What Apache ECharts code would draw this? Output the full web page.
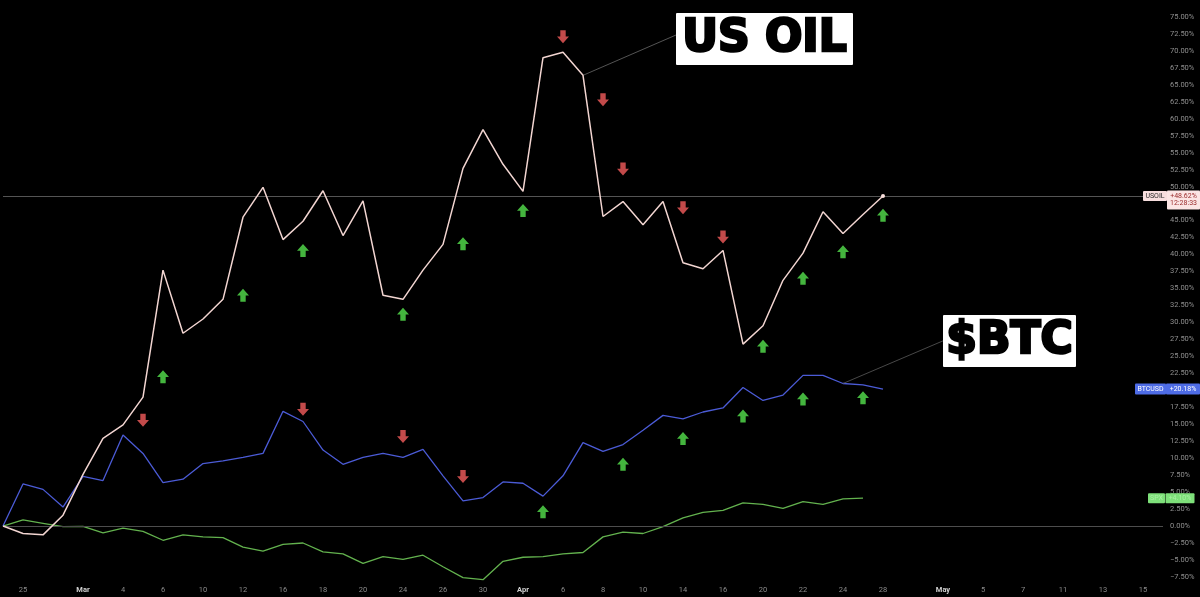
<!DOCTYPE html>
<html><head><meta charset="utf-8">
<script src="https://cdn.jsdelivr.net/npm/echarts@6/dist/echarts.min.js"></script>
<style>html,body{margin:0;padding:0;background:#000;}#c{width:1200px;height:597px;}</style>
</head><body><div id="c"></div>
<script>
// Trading days (2026), one category each
const dates = ['Feb 24','Feb 25','Feb 26','Feb 27','Mar 2','Mar 3','Mar 4','Mar 5','Mar 6','Mar 9','Mar 10','Mar 11','Mar 12','Mar 13','Mar 16','Mar 17','Mar 18','Mar 19','Mar 20','Mar 23','Mar 24','Mar 25','Mar 26','Mar 27','Mar 30','Mar 31','Apr 1','Apr 2','Apr 6','Apr 7','Apr 8','Apr 9','Apr 10','Apr 13','Apr 14','Apr 15','Apr 16','Apr 17','Apr 20','Apr 21','Apr 22','Apr 23','Apr 24','Apr 27','Apr 28','Apr 29','Apr 30','May 1','May 4','May 5','May 6','May 7','May 8','May 11','May 12','May 13','May 14','May 15','May 18'];
const tickLabels = ['','25','','','Mar','','4','','6','','10','','12','','16','','18','','20','','24','','26','','30','','Apr','','6','','8','','10','','14','','16','','20','','22','','24','','28','','','May','','5','','7','','11','','13','','15',''];
const monthLabels = ['Mar','Apr','May'];

// % change series
const usoil = [0,-1.1,-1.3,1.6,7.6,12.9,14.9,19.0,37.7,28.4,30.5,33.4,45.5,49.9,42.2,44.9,49.4,42.8,47.9,34.0,33.4,37.7,41.5,52.7,58.4,53.3,49.3,69.0,69.8,66.4,45.6,47.8,44.4,47.8,38.8,37.9,40.6,26.8,29.5,36.2,40.2,46.3,43.1,45.9,48.62];
const btcusd = [0,6.2,5.4,2.8,7.3,6.7,13.4,10.7,6.4,6.9,9.2,9.6,10.1,10.7,16.9,15.4,11.2,9.1,10.1,10.7,10.1,11.3,7.4,3.7,4.2,6.5,6.3,4.4,7.4,12.3,11.0,12.0,14.1,16.3,15.8,16.8,17.4,20.4,18.5,19.3,22.2,22.2,21.0,20.8,20.18];
const third = [0,0.9,0.4,-0.1,-0.05,-1.0,-0.3,-0.8,-2.1,-1.3,-1.6,-1.7,-3.1,-3.7,-2.7,-2.5,-3.8,-4.1,-5.5,-4.5,-4.9,-4.3,-6.0,-7.6,-7.9,-5.2,-4.6,-4.5,-4.1,-3.9,-1.6,-0.9,-1.1,-0.1,1.2,2.0,2.3,3.4,3.2,2.6,3.6,3.2,4.0,4.1];

// arrow annotations [dayIndex, %]
const downArrows = [[7,15.6],[15,17.2],[20,13.2],[23,7.3],[28,72.1],[30,62.8],[31,52.6],[34,46.9],[36,42.6]];
const upArrows = [[8,22.0],[12,34.0],[15,40.6],[20,31.2],[23,41.6],[26,46.5],[27,2.1],[31,9.1],[34,12.9],[37,16.2],[38,26.5],[40,36.5],[40,18.7],[42,40.4],[43,18.9],[44,45.8]];

const Y_MIN = -10, Y_MAX = 77.5, Y_STEP = 2.5;
const FONT = 'Roboto, "Liberation Sans", sans-serif';
const BIG = 'bold 44px "DejaVu Sans", sans-serif';

const fmtPct = v => (v < 0 ? '\u2212' : '') + Math.abs(v).toFixed(2) + '%';
const signPct = v => (v >= 0 ? '+' : '\u2212') + Math.abs(v).toFixed(2) + '%';

const oilData = usoil.map((v, i) => i === usoil.length - 1
  ? { value: v, symbol: 'circle', symbolSize: 4, itemStyle: { color: '#f9e0dc' } }
  : { value: v, symbol: 'none' });

const upPath = 'path://M6,0 L12,6.2 L8.7,6.2 L8.7,12 L3.3,12 L3.3,6.2 L0,6.2 Z';
const downPath = 'path://M3.3,0 L8.7,0 L8.7,5.8 L12,5.8 L6,12 L0,5.8 L3.3,5.8 Z';

const chart = echarts.init(document.getElementById('c'), null, { renderer: 'canvas' });
const option = {
  backgroundColor: '#000',
  animation: false,
  grid: { left: 3, right: 37, top: -6.35, bottom: 3.1, containLabel: false },
  xAxis: {
    type: 'category', data: dates, boundaryGap: false,
    axisLine: { show: false }, axisTick: { show: false }, splitLine: { show: false },
    axisLabel: {
      interval: 0, margin: -8, color: '#8a8a8a', fontSize: 7.5, fontFamily: FONT,
      formatter: (v, i) => { const t = tickLabels[i]; return monthLabels.includes(t) ? '{m|' + t + '}' : t; },
      rich: { m: { color: '#d0d0d0', fontWeight: 'bold', fontSize: 7.5, fontFamily: FONT } }
    }
  },
  yAxis: {
    type: 'value', position: 'right', min: Y_MIN, max: Y_MAX, interval: Y_STEP,
    axisLine: { show: false }, axisTick: { show: false }, splitLine: { show: false },
    axisLabel: { showMinLabel: false, showMaxLabel: false, align: 'left', margin: 7,
      color: '#8f8f8f', fontSize: 7.5, fontFamily: FONT, formatter: fmtPct }
  },
  series: [
    { name: 'third', type: 'line', data: third, symbol: 'none', z: 3,
      lineStyle: { color: '#63b24e', width: 1.3 },
      markLine: { silent: true, symbol: ['none', 'none'], label: { show: false },
        lineStyle: { color: '#4d4d4d', width: 1, type: 'solid' },
        data: [{ yAxis: 0 }] } },
    { name: 'BTCUSD', type: 'line', data: btcusd, symbol: 'none', z: 4,
      lineStyle: { color: '#4b5bd6', width: 1.3 },
      markLine: { silent: true, symbol: ['none', 'none'], label: { show: false },
        lineStyle: { color: '#5a5a5a', width: 0.8, type: 'solid' },
        data: [[{ coord: [dates[42], btcusd[42]] }, { x: 945, y: 340 }]] } },
    { name: 'USOIL', type: 'line', data: oilData, showSymbol: true, symbol: 'none', z: 5,
      lineStyle: { color: '#f2d5d1', width: 1.5 },
      markLine: { silent: true, symbol: ['none', 'none'], label: { show: false },
        lineStyle: { color: '#6a6a6a', width: 0.8, type: 'solid' },
        data: [
          { yAxis: usoil[usoil.length - 1] },
          [{ coord: [dates[29], usoil[29]] }, { x: 676, y: 35 }]
        ] } },
    { name: 'down', type: 'scatter', data: downArrows, symbol: downPath, symbolSize: [12, 13], z: 6,
      itemStyle: { color: '#f45c5c' } },
    { name: 'up', type: 'scatter', data: upArrows, symbol: upPath, symbolSize: [12, 13], z: 6,
      itemStyle: { color: '#55e24e' } }
  ]
};
chart.setOption(option);

const yPix = v => chart.convertToPixel({ yAxisIndex: 0 }, v);
const fs = '7px ' + FONT;
function box(x, y, w, h, fill, stroke) {
  return { type: 'rect', z: 100, shape: { x, y, width: w, height: h, r: 1 }, style: { fill, stroke: stroke || null, lineWidth: 0.6 } };
}
function txt(x, y, text, fill, weight) {
  return { type: 'text', z: 101, style: { x, y, text, fill, font: (weight || 'normal') + ' ' + fs, align: 'center', verticalAlign: 'middle' } };
}
function bigTxt(x, y, text) {
  return { type: 'text', z: 101, style: { x, y, text, fill: '#000', stroke: '#000', lineWidth: 2.6, lineJoin: 'round', font: BIG, align: 'center', verticalAlign: 'middle' } };
}
const oLast = usoil[usoil.length - 1], bLast = btcusd[btcusd.length - 1], gLast = third[third.length - 1];
const yo = yPix(oLast), yb = yPix(bLast), yg = yPix(gLast);
const graphics = [
  // USOIL tag
  box(1143, yo - 5, 24, 10, '#f7dede'), txt(1155, yo, 'USOIL', '#2a2a2a'),
  box(1167, yo - 5.5, 33, 19, '#fbe5e4'), txt(1183.5, yo, signPct(oLast), '#9b2c2c'), txt(1183.5, yo + 7.5, '12:28:33', '#9b2c2c'),
  // BTCUSD tag
  box(1135, yb - 5.5, 31, 11, '#4e6ce6'), txt(1150.5, yb, 'BTCUSD', '#ffffff'),
  box(1166, yb - 5.5, 34, 11, '#4e6ce6'), txt(1183, yb, signPct(bLast), '#ffffff'),
  // third series tag
  box(1148, yg - 5, 17, 10, '#7ee07a'), txt(1156.5, yg, 'SPX', '#a9f0a4'),
  box(1165.5, yg - 5, 29, 10, '#7ee07a'), txt(1180, yg, signPct(gLast), '#a9f0a4'),
  // annotations
  box(676, 13, 177, 52, '#ffffff'), bigTxt(764.5, 40, 'US OIL'),
  box(943, 315, 133, 52, '#ffffff'), bigTxt(1009.5, 342, '$BTC')
];
chart.setOption({ graphic: graphics });
</script></body></html>
